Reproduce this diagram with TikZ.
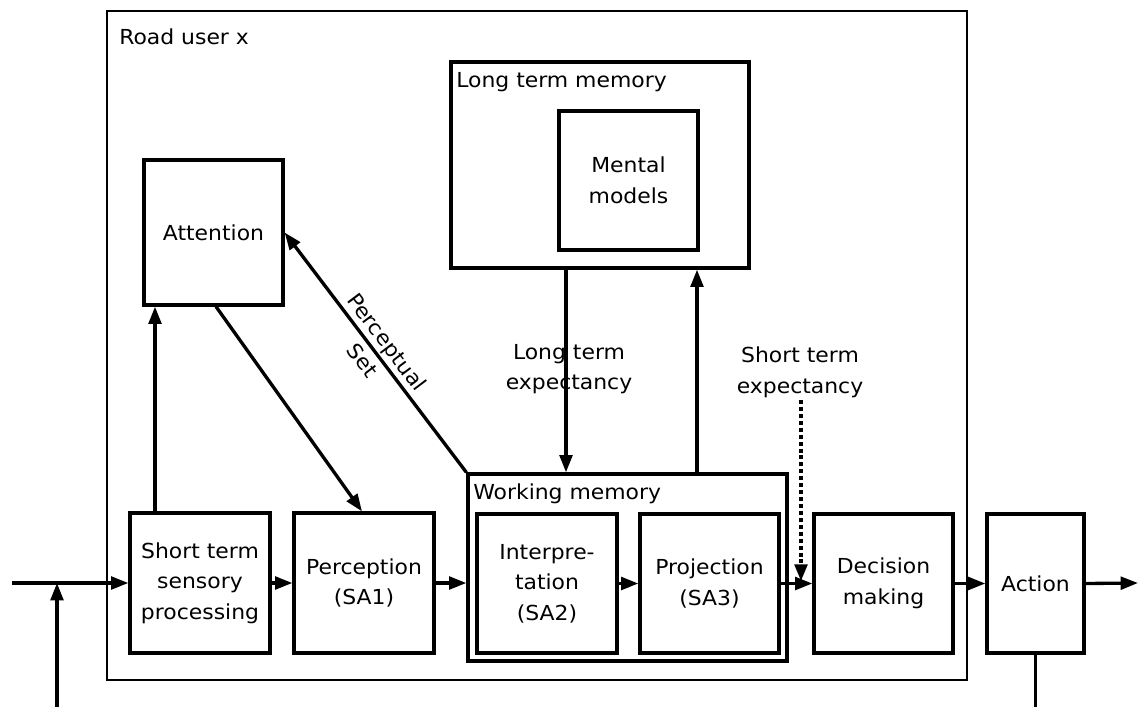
\documentclass[tikz,border=0pt]{standalone}
\usepackage{fontspec}
\setmainfont{DejaVu Sans}[FakeStretch=1.06]
\usetikzlibrary{arrows.meta,calc}
\begin{document}
\begin{tikzpicture}[x=0.75pt,y=-0.75pt,
  bx/.style={draw, line width=2.4pt, inner sep=0pt, align=center},
  lbl/.style={align=center, inner sep=0pt},
  arr/.style={line width=2.5pt, -{Triangle[length=13pt,width=9.5pt]}},
  ln/.style={line width=2.5pt},
  dots/.style={line width=2.6pt, dash pattern=on 3pt off 2.2pt, -{Triangle[length=12.5pt,width=9.5pt]}},
  every node/.style={font=\fontsize{15.5pt}{23pt}\selectfont}]
\useasboundingbox (0,0) rectangle (1138,707);
% outer box
\node[bx, line width=2.2pt, minimum width=645pt, minimum height=501.75pt] (road) at (537,345.5) {};
\node[lbl, anchor=west] (roadl) at (119,37) {Road user x};
% boxes
\node[bx, minimum width=104.25pt, minimum height=108.75pt] (att) at (213.5,232.5) {Attention};
\node[bx, minimum width=223.5pt, minimum height=154.5pt] (ltm) at (600,165) {};
\node[lbl, anchor=west] (ltml) at (456,82) {Long term memory};
\node[bx, minimum width=104.25pt, minimum height=104.25pt] (mm) at (628.5,180.5) {Mental\\models};
\node[bx, minimum width=105pt, minimum height=105pt] (stsp) at (200,583) {Short term\\sensory\\processing};
\node[bx, minimum width=105pt, minimum height=105pt] (perc) at (364,583) {Perception\\(SA1)};
\node[bx, minimum width=239.25pt, minimum height=140.25pt] (wm) at (627.5,567.5) {};
\node[lbl, anchor=west] (wml) at (473,494) {Working memory};
\node[bx, minimum width=105pt, minimum height=104.25pt] (interp) at (547,583.5) {Interpre-\\tation\\(SA2)};
\node[bx, minimum width=104.25pt, minimum height=104.25pt] (proj) at (709.5,583.5) {Projection\\(SA3)};
\node[bx, minimum width=104.25pt, minimum height=104.25pt] (dec) at (883.5,583.5) {Decision\\making};
\node[bx, minimum width=72.75pt, minimum height=104.25pt] (act) at (1035.5,583.5) {Action};
% labels
\node[lbl] (lte) at (569,369) {Long term\\expectancy};
\node[lbl] (ste) at (800,372) {Short term\\expectancy};
\node[lbl, rotate=-53] (ps) at (375,351) {Perceptual\\Set};
% coordinates
\coordinate (in) at (12,583);
\coordinate (fb) at (57,707);
\coordinate (fbt) at (57,583);
\coordinate (out) at (1138,583);
\coordinate (actb) at (1035.5,707);
\coordinate (c1) at (155,0);
\coordinate (c2) at (216,0);
\coordinate (c3) at (362,0);
\coordinate (c4) at (566,0);
\coordinate (c5) at (697,0);
\coordinate (stetop) at (801,400);
\coordinate (stebot) at (801,581);
% connectors
\draw[arr] (in) -- (stsp.west);
\draw[arr] (fb) -- (fbt);
\draw[arr] (stsp.east) -- (perc.west);
\draw[arr] (perc.east) -- (perc.east -| wm.west);
\draw[arr] (interp.east) -- (proj.west);
\draw[arr] (proj.east) -- (dec.west);
\draw[arr] (dec.east) -- (act.west);
\draw[arr] (act.east) -- (out);
\draw[ln] (act.south) -- (actb);
\draw[arr] (stsp.north -| c1) -- (att.south -| c1);
\draw[arr] (att.south -| c2) -- (perc.north -| c3);
\draw[arr] (wm.north west) -- (att.east);
\draw[arr] (ltm.south -| c4) -- (wm.north -| c4);
\draw[arr] (wm.north -| c5) -- (ltm.south -| c5);
\draw[dots] (stetop) -- (stebot);
\end{tikzpicture}
\end{document}
